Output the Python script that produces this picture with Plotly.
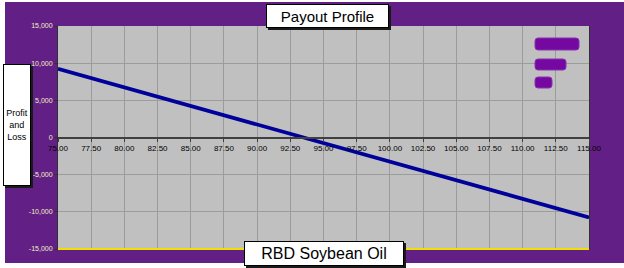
import plotly.graph_objects as go

# Data
prices = [75.0, 77.5, 80.0, 82.5, 85.0, 87.5, 90.0, 92.5, 95.0, 97.5,
          100.0, 102.5, 105.0, 107.5, 110.0, 112.5, 115.0]
profit = [9250, 8000, 6750, 5500, 4250, 3000, 1750, 500, -750, -2000,
          -3250, -4500, -5750, -7000, -8250, -9500, -10750]
x_ticks = [75.0 + 2.5 * i for i in range(17)]
y_ticks = [-15000, -10000, -5000, 0, 5000, 10000, 15000]

W, H = 624, 268
L, R, T, B = 58, 35, 26, 19
PW, PH = W - L - R, H - T - B

def px(x):
    return (x - L) / PW

def py(y):
    return (H - B - y) / PH

PURPLE = "#621f86"

fig = go.Figure()
fig.add_trace(go.Scatter(x=prices, y=profit, mode="lines",
                         line=dict(color="#00009a", width=3.8),
                         showlegend=False, hoverinfo="skip"))

shapes = [
    dict(type="rect", xref="paper", yref="paper", x0=px(0), x1=px(5), y0=py(H), y1=py(0),
         fillcolor="white", line=dict(width=0), layer="below"),
    dict(type="rect", xref="paper", yref="paper", x0=px(0), x1=px(W), y0=py(H), y1=py(263),
         fillcolor="white", line=dict(width=0), layer="below"),
    dict(type="rect", xref="paper", yref="paper", x0=px(0), x1=px(W), y0=py(2), y1=py(0),
         fillcolor="white", line=dict(width=0), layer="below"),
    dict(type="line", xref="paper", yref="paper", x0=0, x1=1, y0=0, y1=0,
         line=dict(color="#f0e000", width=2)),
]

def rounded(x0, x1, y0, y1, r=3):
    X = lambda v: f"{px(v):.5f}"
    Y = lambda v: f"{py(v):.5f}"
    return (f"M {X(x0 + r)},{Y(y0)} L {X(x1 - r)},{Y(y0)} Q {X(x1)},{Y(y0)} {X(x1)},{Y(y0 + r)} "
            f"L {X(x1)},{Y(y1 - r)} Q {X(x1)},{Y(y1)} {X(x1 - r)},{Y(y1)} "
            f"L {X(x0 + r)},{Y(y1)} Q {X(x0)},{Y(y1)} {X(x0)},{Y(y1 - r)} "
            f"L {X(x0)},{Y(y0 + r)} Q {X(x0)},{Y(y0)} {X(x0 + r)},{Y(y0)} Z")

for (x0, x1, y0, y1) in [(535, 579, 38, 50), (535, 566, 59, 70), (535, 552, 77, 88)]:
    shapes.append(dict(type="path", xref="paper", yref="paper",
                       path=rounded(x0, x1, y0, y1),
                       fillcolor="#7408a0", line=dict(color="#8a30b4", width=1)))

for (x0, x1, y0, y1) in [(266, 389, 4, 28), (244, 404, 241, 266), (3, 31, 64, 186)]:
    shapes.append(dict(type="rect", xref="paper", yref="paper",
                       x0=px(x0 + 2), x1=px(x1 + 2), y0=py(y1 + 2), y1=py(y0 + 2),
                       fillcolor="#1a1a1a", line=dict(width=0)))

annotations = [
    dict(text="Payout Profile", xref="paper", yref="paper", x=px(327.5), y=py(16),
         showarrow=False, font=dict(family="Arial", size=15, color="black"),
         bgcolor="white", bordercolor="black", borderwidth=1, borderpad=0,
         width=121, height=22, xanchor="center", yanchor="middle"),
    dict(text="RBD Soybean Oil", xref="paper", yref="paper", x=px(324), y=py(253.5),
         showarrow=False, font=dict(family="Arial", size=16, color="black"),
         bgcolor="white", bordercolor="black", borderwidth=1, borderpad=0,
         width=158, height=23, xanchor="center", yanchor="middle"),
    dict(text="Profit<br>and<br>Loss", xref="paper", yref="paper", x=px(17), y=py(125),
         showarrow=False, font=dict(family="Arial", size=9, color="black"),
         bgcolor="white", bordercolor="black", borderwidth=1, borderpad=0,
         width=26, height=120, xanchor="center", yanchor="middle"),
]

fig.update_layout(
    width=W, height=H,
    margin=dict(l=L, r=R, t=T, b=B, pad=0),
    paper_bgcolor=PURPLE,
    plot_bgcolor="#c0c0c0",
    shapes=shapes,
    annotations=annotations,
    showlegend=False,
    xaxis=dict(range=[75, 115], tickvals=x_ticks,
               ticktext=[f"{v:.2f}" for v in x_ticks],
               anchor="free", position=0.5,
               showgrid=True, gridcolor="#9c9c9c", gridwidth=1,
               showline=True, linecolor="#404040", linewidth=2,
               ticks="outside", ticklen=3, tickcolor="#404040",
               tickfont=dict(family="Arial", size=8, color="black"),
               zeroline=False, fixedrange=True),
    yaxis=dict(range=[-15000, 15000], tickvals=y_ticks,
               ticktext=[f"{v:,}" for v in y_ticks],
               showgrid=True, gridcolor="#9c9c9c", gridwidth=1,
               showline=True, linecolor="#303030", linewidth=1, mirror=True,
               ticks="outside", ticklen=3, tickcolor="#303030",
               tickfont=dict(family="Arial", size=7, color="#f4f0c0"),
               zeroline=False, fixedrange=True),
)

fig.write_html("out.html")
